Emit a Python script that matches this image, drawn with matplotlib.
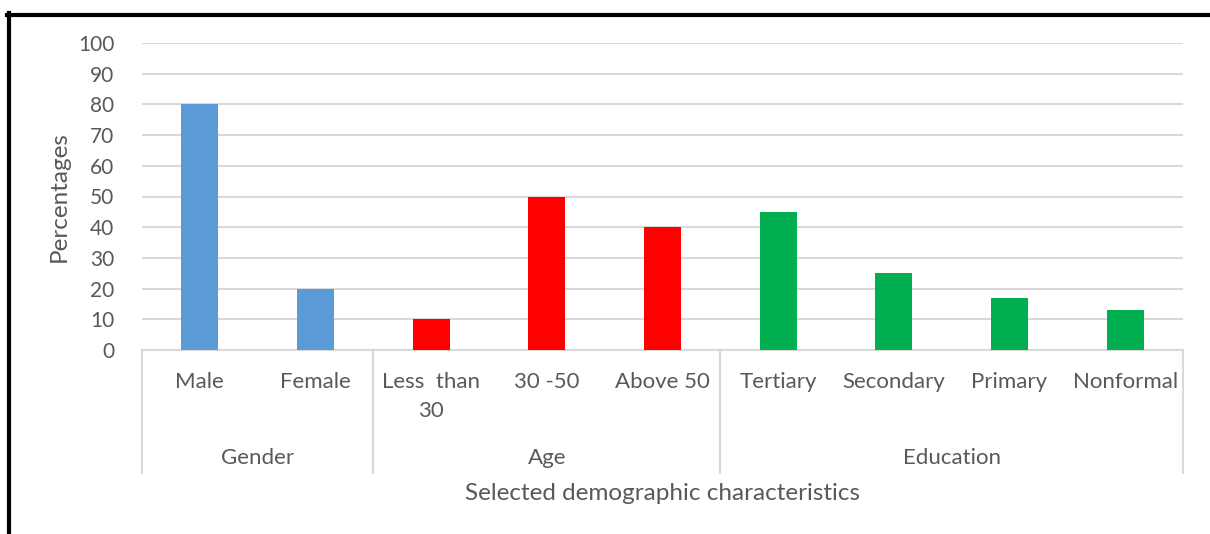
import matplotlib.pyplot as plt
from matplotlib.lines import Line2D

# demographic breakdown, in percent
categories = ["Male", "Female", "Less  than\n30", "30 -50", "Above 50",
              "Tertiary", "Secondary", "Primary", "Nonformal"]
values = [80, 20, 10, 50, 40, 45, 25, 17, 13]
groups = ["Gender", "Age", "Education"]
group_sizes = [2, 3, 4]
group_colors = ["#5B9BD5", "#FF0000", "#00B050"]

plt.rcParams["font.family"] = ["Lato", "DejaVu Sans"]
text_color = "#595959"
grid_color = "#D9D9D9"

fig = plt.figure(figsize=(12.1, 5.34), dpi=100)
ax = fig.add_axes([142 / 1210, 1 - 350 / 534, (1183 - 142) / 1210, (350 - 43) / 534])

colors = []
for c, n in zip(group_colors, group_sizes):
    colors += [c] * n
x = list(range(len(categories)))
ax.bar(x, values, width=0.32, color=colors, zorder=3)

ax.set_xlim(-0.5, len(categories) - 0.5)
ax.set_ylim(0, 100)
ax.set_yticks(range(0, 101, 10))
ax.tick_params(axis="y", length=0, pad=20, labelsize=15, labelcolor=text_color)
ax.set_xticks([])
ax.grid(axis="y", color=grid_color, linewidth=1.5, zorder=0)
for s in ["top", "right", "left"]:
    ax.spines[s].set_visible(False)
ax.spines["bottom"].set_color(grid_color)
ax.spines["bottom"].set_linewidth(1.5)

# category labels under each bar
tr = ax.get_xaxis_transform()
for xi, lab in zip(x, categories):
    ax.text(xi, -0.071, lab, transform=tr, ha="center", va="top",
            fontsize=16, color=text_color, linespacing=1.55)

# group labels and separator lines
start = 0
bounds = [-0.5]
for g, n in zip(groups, group_sizes):
    mid = start + (n - 1) / 2
    ax.text(mid, -0.352, g, transform=tr, ha="center", va="center",
            fontsize=16, color=text_color)
    start += n
    bounds.append(start - 0.5)
for b in bounds:
    ax.plot([b, b], [0, -0.40], transform=tr, color=grid_color,
            linewidth=1.5, clip_on=False)

ax.text(0.5, -0.466, "Selected demographic characteristics", transform=ax.transAxes,
        ha="center", va="center", fontsize=17.5, color=text_color)
ax.set_ylabel("Percentages", fontsize=17.5, color=text_color, labelpad=6)

# heavy frame along the top and left edges
fig.add_artist(Line2D([7 / 1210, 1], [1 - 15 / 534, 1 - 15 / 534],
                      transform=fig.transFigure, color="black", linewidth=3))
fig.add_artist(Line2D([9 / 1210, 9 / 1210], [1 - 13 / 534, 0],
                      transform=fig.transFigure, color="black", linewidth=3))

fig.savefig("out.png", dpi=100)
